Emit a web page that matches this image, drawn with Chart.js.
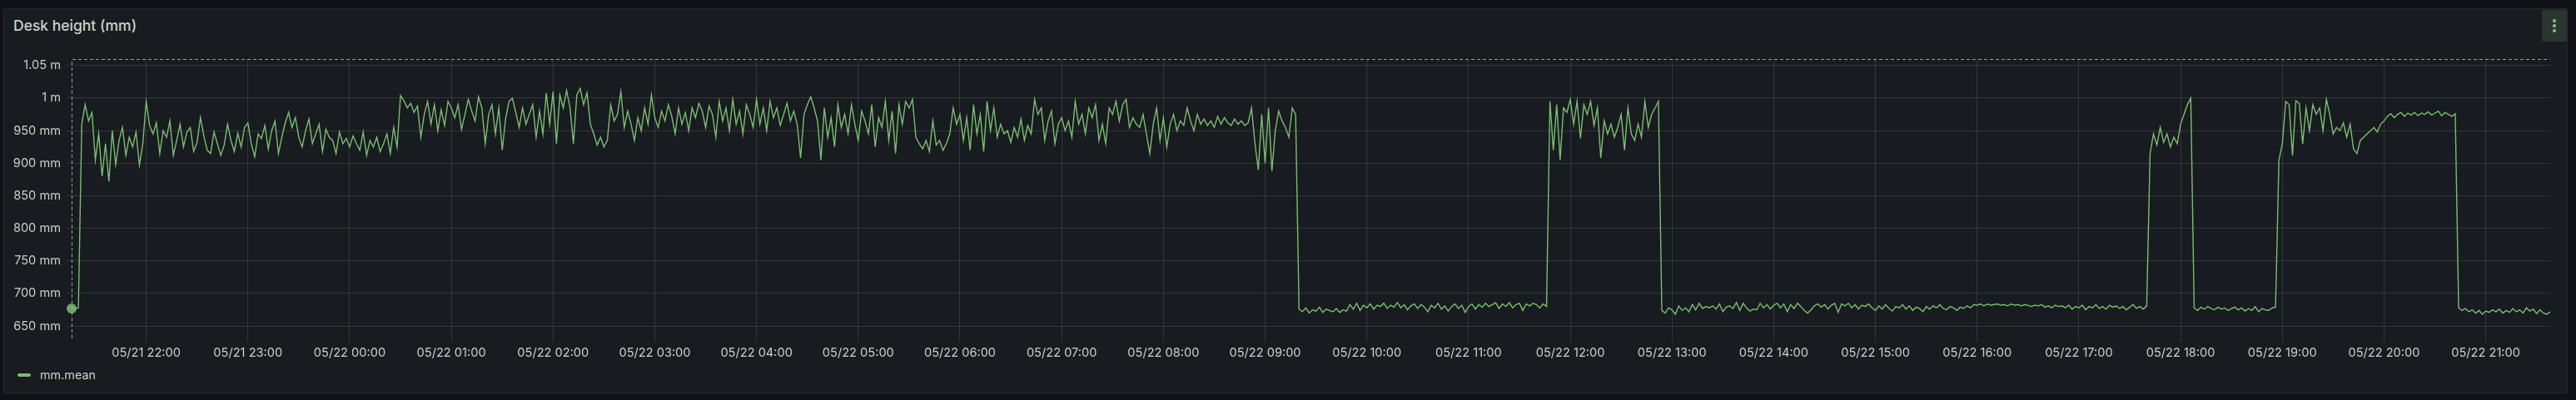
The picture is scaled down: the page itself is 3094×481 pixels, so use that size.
<!DOCTYPE html>
<html>
<head>
<meta charset="utf-8">
<title>Desk height (mm)</title>
<script src="https://cdn.jsdelivr.net/npm/chart.js@4.4.1/dist/chart.umd.min.js"></script>
<style>
  html, body { margin: 0; padding: 0; background: #111217; }
  body { width: 3094px; height: 481px; position: relative; overflow: hidden; font-family: Inter, "Noto Sans", sans-serif; }
  #panel { position: absolute; left: 4px; top: 10px; width: 3078px; height: 461px; background: #181b1f; border: 1px solid #262a2e; border-radius: 2px; }
  #title { position: absolute; left: 16px; top: 22px; font-size: 17.5px; line-height: 17px; font-weight: 500; color: #c8d2c8; white-space: nowrap; }
  #menu { position: absolute; left: 3053px; top: 12px; width: 30px; height: 38px; background: #2c3631; border-radius: 2px; }
  #menu span { position: absolute; left: 13px; width: 4px; height: 4px; border-radius: 2px; background: #8cc286; }
  #legend { position: absolute; left: 21px; top: 443px; height: 16px; font-size: 14.4px; line-height: 16px; color: #c8d2c8; white-space: nowrap; }
  #legend i { position: absolute; left: 0; top: 6px; width: 16px; height: 4px; border-radius: 2px; background: #7cbd74; }
  #legend b { position: absolute; left: 27px; top: 0; font-weight: 400; }
  #deskChart { position: absolute; left: 0; top: 0; }
</style>
</head>
<body>
<div id="panel"></div>
<div id="title">Desk height (mm)</div>
<div id="menu"><span style="top:11px"></span><span style="top:17px"></span><span style="top:23px"></span></div>
<canvas id="deskChart" width="3094" height="481"></canvas>
<div id="legend"><i></i><b>mm.mean</b></div>
<script>
// minutes are counted from 05/21 22:00, one sample every 2 minutes
const STEP = 2;

const xTickValues = [0, 60, 120, 180, 240, 300, 360, 420, 480, 540, 600, 660, 720, 780, 840, 900, 960, 1020, 1080, 1140, 1200, 1260, 1320, 1380];
const xTickLabels = ["05/21 22:00", "05/21 23:00", "05/22 00:00", "05/22 01:00", "05/22 02:00", "05/22 03:00",
    "05/22 04:00", "05/22 05:00", "05/22 06:00", "05/22 07:00", "05/22 08:00", "05/22 09:00",
    "05/22 10:00", "05/22 11:00", "05/22 12:00", "05/22 13:00", "05/22 14:00", "05/22 15:00",
    "05/22 16:00", "05/22 17:00", "05/22 18:00", "05/22 19:00", "05/22 20:00", "05/22 21:00"];
const yTickValues = [650, 700, 750, 800, 850, 900, 950, 1000, 1050];
const yTickLabels = ["650 mm", "700 mm", "750 mm", "800 mm", "850 mm", "900 mm", "950 mm", "1 m", "1.05 m"];

// mm.mean readings, one array per stretch of the day
const from2116 = [677, 677, 678, 960, 990, 965, 978, 905, 945, 880, 930, 872, 950, 898, 935, 955, 912, 940, 925, 948, 897, 930];
const from2200 = [995,
    958, 945, 962, 915, 950, 940, 965, 912, 935, 960,
    925, 948, 955, 918, 932, 970, 942, 920, 915, 948,
    930, 912, 928, 960, 935, 918, 946, 925, 955, 962,
    930, 910, 945, 938, 958, 922, 950, 965, 915, 940,
    962, 978, 955, 970, 940, 925, 950, 968, 930, 945,
    960, 918, 952, 940, 935, 915, 948, 930, 938, 925,
    942, 930, 920, 948, 912, 935, 925, 940, 918, 930,
    945, 915, 955, 925];
const from0030 = [1004, 996, 985, 992, 978, 988, 940, 975, 995, 960,
    990, 950, 982, 958, 995, 985, 970, 990, 952, 975,
    998, 980, 965, 1002, 985, 930, 975, 990, 945, 985,
    920, 968, 995, 1000, 978, 955, 985, 960, 975, 990,
    940, 980, 945, 1008, 960, 1010, 930, 1005, 985];
const from0208 = [1012, 985, 930, 1005, 1015, 990, 1008, 960,
    945, 928, 940, 925, 935, 990,
    965, 975, 1010, 955, 980, 960, 935, 970, 950, 985, 960, 1005, 970,
    955, 980, 965, 990, 972, 945, 985, 960, 978, 950, 985, 970, 992, 980, 955, 988, 975,
    940, 995, 965, 985, 950, 998, 960, 980, 945, 990, 975, 955, 998, 960, 985, 950, 995, 970, 985, 958, 975, 992, 965, 980, 960, 908,
    975, 990, 1002, 985, 965, 905,
    985, 940, 970, 925, 990, 955, 975, 945, 990, 960, 935, 980, 965, 945, 990, 925, 970, 955, 995, 935, 980, 915, 990, 960, 995, 985, 998,
    940, 930, 922, 935, 918, 965, 928, 935, 920, 930,
    945, 985, 960, 975, 935, 970, 920, 990, 945, 975, 918, 995, 950, 985, 940, 960, 945, 950, 932, 955,
    940, 968, 935, 958, 945, 998, 975, 985, 935, 965, 980, 930, 960, 970, 950];
const from0504 = [965, 940, 995, 960, 975, 945, 985, 970, 990, 935, 960, 930, 985, 975, 995, 965, 990, 998, 955, 970, 960,
    955, 975, 945, 915, 960, 985, 935, 970, 925, 960, 975, 950, 965, 958, 985, 965, 950, 975,
    960, 968, 958, 965, 955, 972, 960, 970, 962, 958, 968, 960, 965, 958, 962,
    985, 930, 890, 975, 900, 985, 888, 950, 980, 965, 955, 940, 985, 975];
const from0720 = [676, 672, 678, 670, 675, 673, 679, 671, 676, 674,
    672, 677, 671, 675, 673, 683, 676, 685, 674, 682,
    678, 684, 676, 682, 680, 685, 677, 682, 679, 686,
    678, 683, 675, 681, 684, 677, 683, 679, 672, 682,
    678, 685, 676, 681, 673, 680, 684, 677, 682, 671,
    680, 684, 676, 683, 679, 685, 680, 683, 686, 677,
    684, 680, 686, 678, 683, 685, 674, 684, 681, 685,
    683, 678, 684, 680];
const from0948 = [995, 920, 990, 905, 985,
    978, 998, 960, 995, 938, 990, 975, 995, 958, 985, 908, 965, 945, 960,
    940, 955, 975, 920, 985, 945, 935, 960, 940, 995, 955, 975, 985, 995];
const from1054 = [674, 670, 678, 675, 668, 681, 674, 678, 672, 683,
    675, 685, 677, 680, 678, 681, 676, 684, 672, 679,
    681, 677, 686, 674, 685, 678, 673, 676, 675, 685,
    678, 683, 676, 682, 685, 678, 684, 672, 683, 677,
    685, 680, 674, 670, 675, 681, 684, 679, 683, 676,
    682, 685, 671, 684, 681, 685, 678, 683, 676, 682,
    680, 684, 678, 674, 681, 676, 683, 677, 673, 680,
    678, 683, 676, 681, 674, 679, 677, 672, 680, 676,
    681, 678, 683, 677, 675, 680, 678, 674, 679, 677,
    681, 678, 683, 682, 684, 681, 684, 682, 683, 684,
    682, 683, 681, 684, 682, 683, 681, 683, 682, 680,
    682, 681, 683, 679, 681, 678, 682, 680,
    681, 678, 682, 676, 680, 678, 682, 675, 680, 678,
    683, 677, 680, 676, 682, 679, 681, 677, 680, 675,
    679, 683, 677, 680, 676, 681];
const from1742 = [915, 945, 928, 955, 932, 945, 925, 940, 930, 960, 975, 990, 1000];
const from1808 = [678, 674, 679, 676, 680, 677, 675, 679, 676, 678, 674, 677, 679, 675, 678, 673, 677, 674, 680, 672, 677, 675, 674, 678, 679];
const from1858 = [905, 930,
    995, 990, 912, 996, 992, 930, 985, 950, 990, 975, 985,
    950, 998, 975, 945, 955, 950, 962, 940, 960,
    922, 915,
    935, 940, 945, 950, 955, 948, 960, 965,
    972, 976, 970, 975, 978, 972, 977, 974, 978, 973, 977, 975, 979, 974, 977, 980, 973, 978, 975, 972, 976];
const from2044 = [678, 674, 677, 672, 675, 670, 674, 668, 673, 671, 675, 672, 676, 670, 674, 671, 677, 672, 675, 670, 678, 673, 676, 669, 675, 670, 668, 672];

const blockStart = [-44, 0, 150, 248, 544, 680, 828, 894, 1182, 1208, 1258, 1364];
const blocks = [from2116, from2200, from0030, from0208, from0504, from0720, from0948, from1054, from1742, from1808, from1858, from2044];

const points = [];
blocks.forEach(function(vals, b) {
    vals.forEach(function(v, i) {
        points.push({ x: blockStart[b] + i * STEP, y: v });
    });
});

const textColor = "#c8d2c8";
const gridColor = "rgba(204, 220, 204, 0.15)";
const lineColor = "#7cbd74";
Chart.defaults.font.family = "Inter, 'Noto Sans', sans-serif";

// dashed left/top edge of the plot
const dashedFrame = {
    id: "dashedFrame",
    beforeDatasetsDraw(chart) {
        const a = chart.chartArea;
        const c = chart.ctx;
        c.save();
        c.strokeStyle = "rgba(190, 210, 185, 0.75)";
        c.lineWidth = 1;
        c.setLineDash([4, 3]);
        c.beginPath();
        c.moveTo(Math.round(a.left) + 0.5, a.bottom);
        c.lineTo(Math.round(a.left) + 0.5, Math.round(a.top) + 0.5);
        c.lineTo(a.right, Math.round(a.top) + 0.5);
        c.stroke();
        c.restore();
    }
};

const ctx = document.getElementById("deskChart").getContext("2d");
new Chart(ctx, {
    type: "line",
    data: {
        datasets: [{
            label: "mm.mean",
            data: points,
            borderColor: lineColor,
            borderWidth: 1.4,
            backgroundColor: lineColor,
            pointRadius: function(c) { return c.dataIndex === 0 ? 6 : 0; },
            pointBackgroundColor: "rgba(124, 189, 116, 0.85)",
            pointBorderWidth: 0,
            clip: false,
            tension: 0
        }]
    },
    options: {
        responsive: false,
        animation: false,
        layout: { padding: { left: 0, right: 31, top: 71, bottom: 44 } },
        plugins: { legend: { display: false }, tooltip: { enabled: false } },
        scales: {
            x: {
                type: "linear",
                min: -44,
                max: 1418,
                afterBuildTicks: function(s) { s.ticks = xTickValues.map(function(v) { return { value: v }; }); },
                afterFit: function(s) { s.height = 30; },
                ticks: {
                    callback: function(v, i) { return xTickLabels[i]; },
                    color: textColor,
                    font: { size: 14.6 },
                    padding: 5,
                    maxRotation: 0,
                    autoSkip: false
                },
                grid: { color: gridColor, tickLength: 4 },
                border: { display: false }
            },
            y: {
                min: 631,
                max: 1060,
                afterBuildTicks: function(s) { s.ticks = yTickValues.map(function(v) { return { value: v }; }); },
                afterFit: function(s) { s.width = 86; },
                ticks: {
                    callback: function(v, i) { return yTickLabels[i]; },
                    color: textColor,
                    font: { size: 14.6 },
                    padding: 7
                },
                grid: { color: gridColor, tickLength: 6 },
                border: { display: false }
            }
        }
    },
    plugins: [dashedFrame]
});
</script>
</body>
</html>
